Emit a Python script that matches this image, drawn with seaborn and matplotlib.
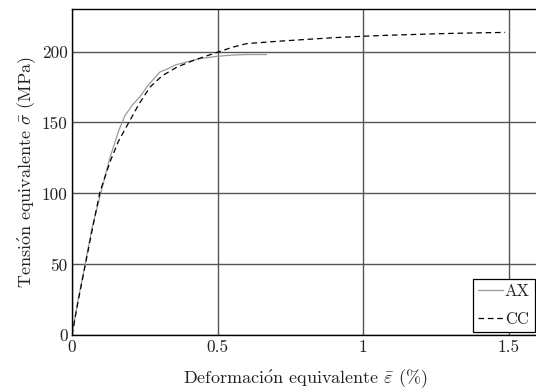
import matplotlib
matplotlib.use("Agg")
import matplotlib.pyplot as plt
import seaborn as sns
import pandas as pd

# data
ax_strain = [0, 0.02, 0.045, 0.068, 0.096, 0.13, 0.16, 0.182, 0.21, 0.233, 0.26,
             0.302, 0.33, 0.354, 0.40, 0.44, 0.50, 0.55, 0.60, 0.668]
ax_stress = [0, 24, 50, 75, 98, 125, 144, 155, 163, 168, 176,
             185.6, 188, 190.5, 193, 195, 196.7, 197.5, 197.9, 197.9]

cc_strain = [0, 0.02, 0.045, 0.068, 0.096, 0.13, 0.16, 0.193, 0.23, 0.268, 0.31,
             0.36, 0.42, 0.502, 0.55, 0.6, 0.703, 0.8, 0.9, 1.0, 1.1, 1.2, 1.3, 1.4, 1.487]
cc_stress = [0, 23, 49, 73, 101, 122, 137, 149.3, 163, 175, 183,
             189, 194, 199.7, 203, 205.6, 207.2, 208.5, 209.8, 210.8, 211.6, 212.2, 212.8, 213.2, 213.5]

series_labels = ["AX", "CC"]
x_ticks = [0, 0.5, 1, 1.5]
x_ticklabels = ["0", "0.5", "1", "1.5"]
y_ticks = [0, 50, 100, 150, 200]
y_ticklabels = ["0", "50", "100", "150", "200"]

sns.set_style("white")
plt.rcParams["font.family"] = ["cmr10", "DejaVu Serif"]
plt.rcParams["mathtext.fontset"] = "cm"
plt.rcParams["axes.formatter.use_mathtext"] = True

df_ax = pd.DataFrame({"strain": ax_strain, "stress": ax_stress})
df_cc = pd.DataFrame({"strain": cc_strain, "stress": cc_stress})

fig = plt.figure(figsize=(5.36, 3.90), dpi=100)
ax = fig.add_axes([72 / 536, (390 - 335.3) / 390, (538 - 72) / 536, (335.3 - 9) / 390])

sns.lineplot(data=df_ax, x="strain", y="stress", ax=ax, color="#9a9a9a",
             linewidth=0.9, label=series_labels[0], sort=False)
sns.lineplot(data=df_cc, x="strain", y="stress", ax=ax, color="black",
             linewidth=0.9, linestyle=(0, (4.5, 3)), label=series_labels[1], sort=False)

ax.set_xlim(0, 1.6)
ax.set_ylim(0, 230)
ax.set_xticks(x_ticks)
ax.set_xticklabels(x_ticklabels)
ax.set_yticks(y_ticks)
ax.set_yticklabels(y_ticklabels)
ax.tick_params(length=0, labelsize=12.5, pad=3, colors="#222222")
ax.grid(True, color="#555555", linewidth=1.0)
ax.set_axisbelow(True)
for s in ax.spines.values():
    s.set_color("black")
    s.set_linewidth(1.0)

ax.set_xlabel("Deformaci$\\mathrm{\\acute{o}}$n equivalente $\\bar{\\varepsilon}$ (%)",
              fontsize=13, labelpad=9, color="#222222")
ax.set_ylabel("Tensi$\\mathrm{\\acute{o}}$n equivalente $\\bar{\\sigma}$ (MPa)",
              fontsize=13, labelpad=3, color="#222222")

leg = ax.legend(loc="lower right", fontsize=12, frameon=True, fancybox=False,
                framealpha=1, edgecolor="black", handlelength=1.5, handletextpad=0.1,
                borderpad=0.3, borderaxespad=0.2, labelspacing=0.75)
leg.get_frame().set_linewidth(0.9)

fig.savefig("out.png", dpi=100)
